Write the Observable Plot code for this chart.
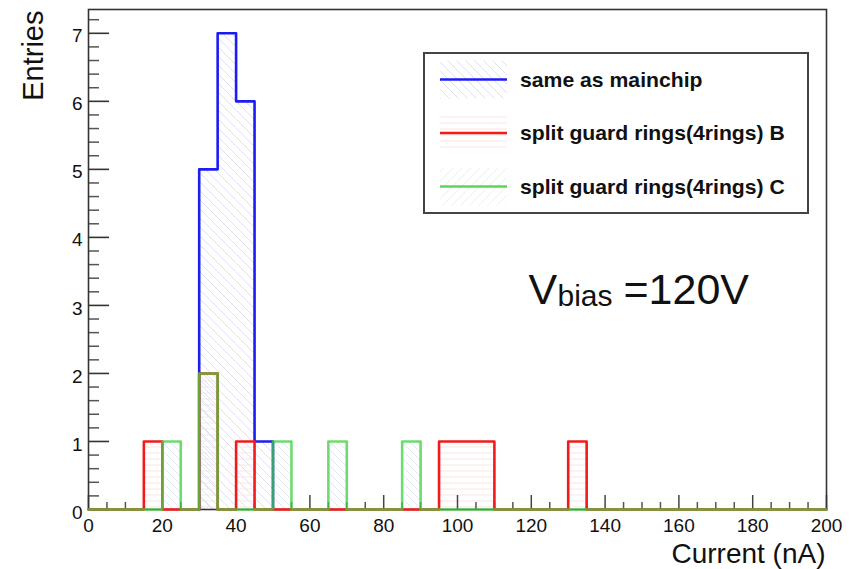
<!DOCTYPE html>
<html>
<head>
<meta charset="utf-8">
<script src="https://cdn.jsdelivr.net/npm/d3@7"></script>
<script src="https://cdn.jsdelivr.net/npm/@observablehq/plot@0.6"></script>
<style>
  html, body { margin: 0; padding: 0; background: #fff; }
  #chart { width: 852px; height: 569px; }
</style>
</head>
<body>
<div id="chart"></div>
<script>
// ---- Data (histogram bins of width 5 nA, from 0 to 200 nA) ----
const binStart = [0,5,10,15,20,25,30,35,40,45,50,55,60,65,70,75,80,85,90,95,
                  100,105,110,115,120,125,130,135,140,145,150,155,160,165,170,175,180,185,190,195];
const binWidth = 5;
const seriesNames = ["same as mainchip", "split guard rings(4rings) B", "split guard rings(4rings) C"];
const sameAsMainchip = [0,0,0,0,0,0,5,7,6,1, 0,0,0,0,0,0,0,0,0,0, 0,0,0,0,0,0,0,0,0,0, 0,0,0,0,0,0,0,0,0,0];
const splitB         = [0,0,0,1,0,0,2,0,1,0, 0,0,0,0,0,0,0,0,0,1, 1,1,0,0,0,0,1,0,0,0, 0,0,0,0,0,0,0,0,0,0];
const splitC         = [0,0,0,0,1,0,2,0,0,0, 1,0,0,1,0,0,0,1,0,0, 0,0,0,0,0,0,0,0,0,0, 0,0,0,0,0,0,0,0,0,0];
const xTickLabels = [0,20,40,60,80,100,120,140,160,180,200];
const yTickLabels = [0,1,2,3,4,5,6,7];

// ---- Derived structures ----
const steps = c => binStart.flatMap((x0, i) => [{x: x0, y: c[i]}, {x: x0 + binWidth, y: c[i]}]);
// outline limited to the populated range (the empty baseline is hidden under the other series anyway)
const stepsTrimmed = c => {
  const first = c.findIndex(v => v > 0), last = c.length - 1 - [...c].reverse().findIndex(v => v > 0);
  const pts = [{x: binStart[first], y: 0}];
  for (let i = first; i <= last; i++) pts.push({x: binStart[i], y: c[i]}, {x: binStart[i] + binWidth, y: c[i]});
  pts.push({x: binStart[last] + binWidth, y: 0});
  return pts;
};
const bars = c => binStart.map((x0, i) => ({x1: x0, x2: x0 + binWidth, y: c[i]})).filter(d => d.y > 0);

const xMinor = d3.range(0, 201, 5).filter(v => v % 20 !== 0);
const yMinor = d3.range(0, 37).filter(i => i % 5 !== 0).map(i => i / 5);

const font = "'Liberation Sans', Arial, Helvetica, sans-serif";
const W = 852, H = 569, mL = 88, mR = 26, mT = 9, mB = 60;
const frameW = W - mL - mR, frameH = H - mT - mB;

const colors = {blue: "#1c1cf5", red: "#f21a1a", green: "#3fcf3f"};

const svg = Plot.plot({
  width: W, height: H,
  marginLeft: mL, marginRight: mR, marginTop: mT, marginBottom: mB,
  style: {fontFamily: font, background: "white", color: "#111"},
  x: {domain: [0, 200], label: null},
  y: {domain: [0, 7.35], label: null},
  marks: [
    // histogram fills
    Plot.rectY(bars(sameAsMainchip), {x1: "x1", x2: "x2", y: "y", fill: "url(#hatchBlue)"}),
    Plot.rectY(bars(splitB), {x1: "x1", x2: "x2", y: "y", fill: "url(#hatchRed)"}),
    Plot.rectY(bars(splitC), {x1: "x1", x2: "x2", y: "y", fill: "url(#hatchGreen)"}),
    // ticks (inward, ROOT style)
    Plot.tickX(xTickLabels, {x: d => d, insetTop: frameH - 14, stroke: "#444", strokeWidth: 1.5}),
    Plot.tickX(xMinor, {x: d => d, insetTop: frameH - 7, stroke: "#555", strokeWidth: 1.5}),
    Plot.tickY(yTickLabels, {y: d => d, insetRight: frameW - 21, stroke: "#333", strokeWidth: 1.6}),
    Plot.tickY(yMinor, {y: d => d, insetRight: frameW - 11, stroke: "#555", strokeWidth: 1.5}),
    Plot.frame({stroke: "#333", strokeWidth: 1.6}),
    // histogram outlines
    Plot.line(stepsTrimmed(sameAsMainchip), {x: "x", y: "y", stroke: colors.blue, strokeWidth: 2.6}),
    Plot.line(steps(splitB), {x: "x", y: "y", stroke: colors.red, strokeWidth: 2.6}),
    Plot.line(steps(splitC), {x: "x", y: "y", stroke: colors.green, strokeOpacity: 0.75, strokeWidth: 2.6}),
    // axes labels
    Plot.axisX({ticks: xTickLabels, tickSize: 0, tickPadding: 9, fontSize: 19, label: null, tickFormat: d => String(d)}),
    Plot.axisY({ticks: yTickLabels, tickSize: 0, tickPadding: 6, dy: 3, fontSize: 19, label: null, tickFormat: d => String(d)}),
    Plot.text(["Entries"], {text: d => d, frameAnchor: "top-left", dx: -46, dy: 1, rotate: -90,
      textAnchor: "end", lineAnchor: "bottom", fontSize: 29, fill: "#111"}),
    Plot.text(["Current (nA)"], {text: d => d, frameAnchor: "bottom-right", dx: -1, dy: 53,
      textAnchor: "end", lineAnchor: "bottom", fontSize: 28, fill: "#111"}),
    // V_bias annotation
    Plot.text(["V"], {text: d => d, frameAnchor: "top-left", dx: 440, dy: 294, textAnchor: "start", lineAnchor: "bottom", fontSize: 43, fill: "#111"}),
    Plot.text(["bias"], {text: d => d, frameAnchor: "top-left", dx: 469, dy: 296, textAnchor: "start", lineAnchor: "bottom", fontSize: 30, fill: "#111"}),
    Plot.text(["=120V"], {text: d => d, frameAnchor: "top-left", dx: 535, dy: 294, textAnchor: "start", lineAnchor: "bottom", fontSize: 43, fill: "#111"})
  ]
});

// ---- hatch patterns ----
const root = d3.select(svg);
const defs = root.insert("defs", ":first-child");
function diag(id, size, stroke) {
  const p = defs.append("pattern").attr("id", id).attr("patternUnits", "userSpaceOnUse")
    .attr("width", size).attr("height", size);
  p.append("path").attr("d", `M0,0L${size},${size}M${-size/2},${size/2}L${size/2},${3*size/2}M${size/2},${-size/2}L${3*size/2},${size/2}`)
    .attr("stroke", stroke).attr("stroke-width", 1).attr("fill", "none");
}
function diagUp(id, size, stroke) {
  const p = defs.append("pattern").attr("id", id).attr("patternUnits", "userSpaceOnUse")
    .attr("width", size).attr("height", size);
  p.append("path").attr("d", `M0,${size}L${size},0M${-size/2},${size/2}L${size/2},${-size/2}M${size/2},${3*size/2}L${3*size/2},${size/2}`)
    .attr("stroke", stroke).attr("stroke-width", 1).attr("fill", "none");
}
function horiz(id, size, stroke) {
  const p = defs.append("pattern").attr("id", id).attr("patternUnits", "userSpaceOnUse")
    .attr("width", size).attr("height", size);
  p.append("path").attr("d", `M0,${size/2}H${size}`).attr("stroke", stroke).attr("stroke-width", 1).attr("fill", "none");
}
diag("hatchBlue", 9, "#dedef9");
horiz("hatchRed", 6, "#fde3e3");
diag("hatchGreen", 8, "#dfe7f5");
diagUp("hatchGreenLegend", 9, "#e6f3e6");

// ---- legend (inside the frame, ROOT TLegend style) ----
const lg = root.append("g").attr("font-family", font).attr("text-anchor", "start");
lg.append("rect").attr("x", 424).attr("y", 53).attr("width", 384).attr("height", 160)
  .attr("fill", "white").attr("stroke", "#444").attr("stroke-width", 2);
const legendItems = [
  {name: seriesNames[0], color: colors.blue, fill: "url(#hatchBlue)", op: 1},
  {name: seriesNames[1], color: colors.red, fill: "url(#hatchRed)", op: 1},
  {name: seriesNames[2], color: colors.green, fill: "url(#hatchGreenLegend)", op: 0.85}
];
legendItems.forEach((d, i) => {
  const cy = 79.5 + i * 53.5;
  lg.append("rect").attr("x", 440).attr("y", cy - 19).attr("width", 67).attr("height", 38).attr("fill", d.fill);
  lg.append("line").attr("x1", 440).attr("x2", 507).attr("y1", cy).attr("y2", cy)
    .attr("stroke", d.color).attr("stroke-width", 2.6).attr("stroke-opacity", d.op);
  lg.append("text").attr("transform", `translate(520,${cy + 7}) scale(1.06,1)`)
    .attr("text-anchor", "start")
    .attr("font-size", 20).attr("font-weight", "bold").attr("fill", "#111").text(d.name);
});

document.getElementById("chart").appendChild(svg);
</script>
</body>
</html>
